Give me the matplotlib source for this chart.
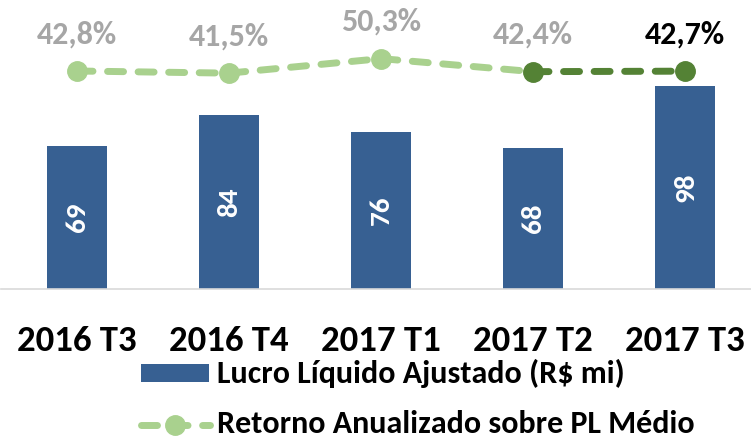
import matplotlib
matplotlib.use("Agg")
import matplotlib.pyplot as plt
from matplotlib.lines import Line2D
from matplotlib.patches import Rectangle

categories = ["2016 T3", "2016 T4", "2017 T1", "2017 T2", "2017 T3"]
lucro = [69, 84, 76, 68, 98]
retorno = [42.8, 41.5, 50.3, 42.4, 42.7]
retorno_labels = ["42,8%", "41,5%", "50,3%", "42,4%", "42,7%"]
legend_labels = ["Lucro Líquido Ajustado (R$ mi)", "Retorno Anualizado sobre PL Médio"]

plt.rcParams['font.family'] = ['Carlito', 'DejaVu Sans']

BAR = "#376092"
LIGHT = "#A9D18E"
DARK = "#548235"
GRAY = "#A6A6A6"

W, H = 751, 437
fig = plt.figure(figsize=(W / 100, H / 100), dpi=100)
ax = fig.add_axes([1 / W, 1 - 289 / H, 760 / W, 269 / H])
x = list(range(len(categories)))
ax.bar(x, lucro, width=0.395, color=BAR, zorder=2)
ax.set_xlim(-0.5, 4.5)
ax.set_ylim(0, 130)
for xi, v in zip(x, lucro):
    ax.text(xi, v / 2, str(v), rotation=90, ha="center", va="center",
            color="white", fontsize=21, fontweight="bold")
ax.set_yticks([])
ax.set_xticks(x)
ax.set_xticklabels(categories, fontsize=26.5, fontweight="bold")
ax.tick_params(axis="x", length=0, pad=26)
for s in ["top", "right", "left"]:
    ax.spines[s].set_visible(False)
ax.spines["bottom"].set_color("#D9D9D9")
ax.spines["bottom"].set_linewidth(1.2)

ax2 = ax.twinx()
ax2.set_ylim(-89.3, 73.7)
ax2.axis("off")
lw = 5
dash = (2.3, 2.1)
ax2.plot(x[:4], retorno[:4], color=LIGHT, lw=lw, linestyle=(0, dash),
         dash_capstyle="round", zorder=3)
ax2.plot(x[3:], retorno[3:], color=DARK, lw=lw, linestyle=(0, dash),
         dash_capstyle="round", zorder=3)
ax2.plot(x[:3], retorno[:3], 'o', color=LIGHT, ms=14, zorder=4)
ax2.plot(x[3:], retorno[3:], 'o', color=DARK, ms=14, zorder=4)
for i, (xi, v, lab) in enumerate(zip(x, retorno, retorno_labels)):
    ax2.annotate(lab, (xi, v), xytext=(0, 26.5), textcoords="offset points",
                 ha="center", va="center", fontsize=23, fontweight="bold",
                 color="black" if i == 4 else GRAY)

# legend (drawn in figure pixel space)
fig.patches.append(Rectangle((141 / W, 1 - 382 / H), 68 / W, 18 / H,
                             transform=fig.transFigure, facecolor=BAR, edgecolor="none"))
fig.text(217 / W, 1 - 373 / H, legend_labels[0], fontsize=23, fontweight="bold",
         va="center", ha="left")
fig.lines.append(Line2D([141 / W, 210 / W], [1 - 425 / H, 1 - 425 / H],
                        transform=fig.transFigure, color=LIGHT, lw=lw,
                        linestyle=(0, dash), dash_capstyle="round"))
fig.lines.append(Line2D([175 / W], [1 - 425 / H], transform=fig.transFigure,
                        color=LIGHT, marker='o', ms=14, linestyle="none"))
fig.text(217 / W, 1 - 424 / H, legend_labels[1], fontsize=23, fontweight="bold",
         va="center", ha="left")

fig.savefig("out.png", dpi=100)
